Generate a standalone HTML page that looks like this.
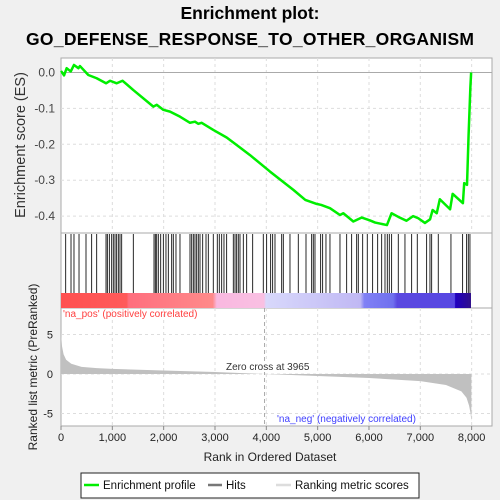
<!DOCTYPE html>
<html><head><meta charset="utf-8"><style>
body{margin:0;background:#f0f0f0;}
svg{display:block;font-family:"Liberation Sans",Arial,sans-serif;}
</style></head><body>
<svg id="c" width="500" height="500" viewBox="0 0 500 500">
<rect width="500" height="500" fill="#f0f0f0"/>
<text x="250" y="19" text-anchor="middle" font-size="17.5" font-weight="bold">Enrichment plot:</text>
<text x="250" y="45" text-anchor="middle" font-size="17.5" font-weight="bold" textLength="448">GO_DEFENSE_RESPONSE_TO_OTHER_ORGANISM</text>
<rect x="61" y="58" width="431" height="368" fill="#fff" stroke="#aaa"/>
<line x1="61" y1="233" x2="492" y2="233" stroke="#aaa"/>
<line x1="61" y1="308" x2="492" y2="308" stroke="#aaa"/>
<defs><linearGradient id="cb" x1="61" x2="471" gradientUnits="userSpaceOnUse">
<stop offset="0" stop-color="#ff5050"/><stop offset="0.16" stop-color="#ff5a5a"/><stop offset="0.165" stop-color="#ff6e7e"/><stop offset="0.37" stop-color="#ff8a8a"/><stop offset="0.38" stop-color="#f9b8e0"/><stop offset="0.495" stop-color="#f9c0e2"/><stop offset="0.5" stop-color="#d8d8fb"/><stop offset="0.73" stop-color="#c0b8f4"/><stop offset="0.74" stop-color="#8080f5"/><stop offset="0.81" stop-color="#7070ee"/><stop offset="0.82" stop-color="#5a48e0"/><stop offset="0.96" stop-color="#5848e2"/><stop offset="0.962" stop-color="#2000c0"/><stop offset="1" stop-color="#30108a"/>
</linearGradient></defs>
<rect x="61" y="293" width="410" height="15" fill="url(#cb)"/>
<g id="grid"></g>
<g id="hits"></g>
<g id="metric"></g>
<g id="axes"></g>
<polyline id="es" fill="none" stroke="#00ee00" stroke-width="2.5" stroke-linejoin="round"/>
<text x="63" y="317" font-size="10" fill="#ff4040">'na_pos' (positively correlated)</text>
<text x="277" y="422" font-size="10" fill="#4040ff">'na_neg' (negatively correlated)</text>
<rect x="225" y="361" width="80" height="11" fill="#fff"/>
<text x="226" y="370" font-size="10" fill="#333">Zero cross at 3965</text>
<text transform="translate(25,145) rotate(-90)" text-anchor="middle" font-size="14.5" fill="#333">Enrichment score (ES)</text>
<text transform="translate(37,367) rotate(-90)" text-anchor="middle" font-size="12" fill="#222">Ranked list metric (PreRanked)</text>
<text x="270" y="461" text-anchor="middle" font-size="12" fill="#222">Rank in Ordered Dataset</text>
<g>
<rect x="81" y="473" width="338" height="25" fill="#fff" stroke="#222"/>
<line x1="84" y1="485" x2="99" y2="485" stroke="#00ee00" stroke-width="2.5"/>
<text x="103" y="489" font-size="11.5" fill="#111">Enrichment profile</text>
<line x1="208" y1="485" x2="222" y2="485" stroke="#777" stroke-width="2.5"/>
<text x="226" y="489" font-size="11.5" fill="#111">Hits</text>
<line x1="276" y1="485" x2="291" y2="485" stroke="#ddd" stroke-width="2.5"/>
<text x="295" y="489" font-size="11.5" fill="#111">Ranking metric scores</text>
</g>
</svg>
<script>
const esRanks=[0,13,60,110,190,253,340,370,532,695,877,955,1085,1200,1409,1799,1864,1994,2124,2318,2513,2610,2675,2740,2967,3227,3422,3682,4072,4527,4760,4980,5070,5240,5435,5500,5695,5860,6020,6120,6350,6440,6570,6730,6860,6960,7090,7190,7240,7320,7380,7580,7630,7830,7855,7910,7940,7975,7990];
const esValues=[0,0.002,-0.008,0.012,0.003,0.021,0.012,0.018,-0.007,-0.016,-0.03,-0.023,-0.03,-0.023,-0.049,-0.095,-0.09,-0.104,-0.109,-0.123,-0.14,-0.137,-0.143,-0.14,-0.16,-0.181,-0.202,-0.23,-0.276,-0.327,-0.355,-0.366,-0.369,-0.378,-0.397,-0.392,-0.415,-0.404,-0.412,-0.418,-0.425,-0.392,-0.402,-0.413,-0.4,-0.406,-0.419,-0.409,-0.383,-0.392,-0.353,-0.381,-0.338,-0.364,-0.308,-0.313,-0.176,-0.042,0.0];
const hitRanks=[91,195,253,351,487,597,695,877,903,942,987,1019,1052,1084,1117,1149,1182,1409,1812,1838,1864,1896,1942,1994,2045,2091,2156,2188,2240,2318,2513,2546,2578,2610,2643,2675,2708,2760,2825,2870,2967,3045,3084,3130,3175,3227,3357,3390,3422,3454,3487,3552,3617,3734,3941,4006,4084,4123,4169,4299,4331,4461,4623,4773,4883,4915,4948,5058,5097,5162,5240,5435,5565,5662,5760,5792,5877,5967,6071,6169,6247,6312,6357,6396,6441,6571,6701,6831,6941,7123,7188,7221,7350,7597,7824,7902,7935,7967];
const metricRanks=[0,20,50,100,200,400,700,1000,2000,3000,3965,5000,6000,7000,7500,7800,7900,7950,7980,7995];
const metricValues=[5.2,3.5,2.5,1.8,1.3,0.9,0.75,0.65,0.45,0.25,0,-0.25,-0.5,-0.9,-1.4,-2.2,-3,-4,-5,-6];
const xTicks=[0,1000,2000,3000,4000,5000,6000,7000,8000];
const xTickLabels=["0","1,000","2,000","3,000","4,000","5,000","6,000","7,000","8,000"];
const esTicks=[0,-0.1,-0.2,-0.3,-0.4];
const esTickLabels=["0.0","-0.1","-0.2","-0.3","-0.4"];
const metricTicks=[5,0,-5];
const metricTickLabels=["5","0","-5"];
const zeroCross=3965;

const NS="http://www.w3.org/2000/svg";
const X=r=>61+r*0.05133;
const YE=v=>72.5-v*359;
const YM=v=>374-v*7.9;
function mk(tag,parent,attrs){const e=document.createElementNS(NS,tag);for(const k in attrs)e.setAttribute(k,attrs[k]);parent.appendChild(e);return e;}
const grid=document.getElementById('grid'),hits=document.getElementById('hits'),met=document.getElementById('metric'),axes=document.getElementById('axes');
xTicks.forEach((t,i)=>{
 if(t>0){
  let l=mk('line',grid,{x1:X(t),x2:X(t),y1:58,y2:233,stroke:'#ddd','stroke-dasharray':'3,3'});
  
  let l2=mk('line',grid,{x1:X(t),x2:X(t),y1:308,y2:426,stroke:'#ddd','stroke-dasharray':'3,3'});
  
 }
 let tk=mk('line',axes,{x1:X(t),x2:X(t),y1:426,y2:430,stroke:'#888'});
 
 let tx=mk('text',axes,{x:X(t),y:441,'text-anchor':'middle','font-size':'11',fill:'#222'});
 tx.textContent=xTickLabels[i];
 
});
esTicks.forEach((t,i)=>{
 let l=mk('line',grid,{x1:61,x2:492,y1:YE(t),y2:YE(t),stroke:t===0?'#aaa':'#ddd','stroke-dasharray':t===0?'':'3,3'});
 
 let tx=mk('text',axes,{x:55,y:YE(t)+4,'text-anchor':'end','font-size':'12',fill:'#444'});
 tx.textContent=esTickLabels[i];
 
});
metricTicks.forEach((t,i)=>{
 let l=mk('line',grid,{x1:61,x2:492,y1:YM(t),y2:YM(t),stroke:'#ddd','stroke-dasharray':'3,3'});
 
 let tx=mk('text',axes,{x:53,y:YM(t)+4,'text-anchor':'end','font-size':'11',fill:'#222'});
 tx.textContent=metricTickLabels[i];
 
});
let zc=mk('line',grid,{x1:X(zeroCross),x2:X(zeroCross),y1:308,y2:426,stroke:'#aaa','stroke-dasharray':'4,3'});

hitRanks.forEach(r=>{
 let l=mk('line',hits,{x1:X(r),x2:X(r),y1:234,y2:293,stroke:'#111','stroke-width':'0.9'});
 
});
let d='M'+X(metricRanks[0])+','+YM(0);
metricRanks.forEach((r,i)=>{d+=' L'+X(r).toFixed(2)+','+YM(metricValues[i]).toFixed(2);});
d+=' L'+X(metricRanks[metricRanks.length-1])+','+YM(0)+' Z';
let area=mk('path',met,{d:d,fill:'#c0c0c0'});

document.getElementById('es').setAttribute('points',esRanks.map((r,i)=>X(r).toFixed(2)+','+YE(esValues[i]).toFixed(2)).join(' '));
</script>
</body></html>
